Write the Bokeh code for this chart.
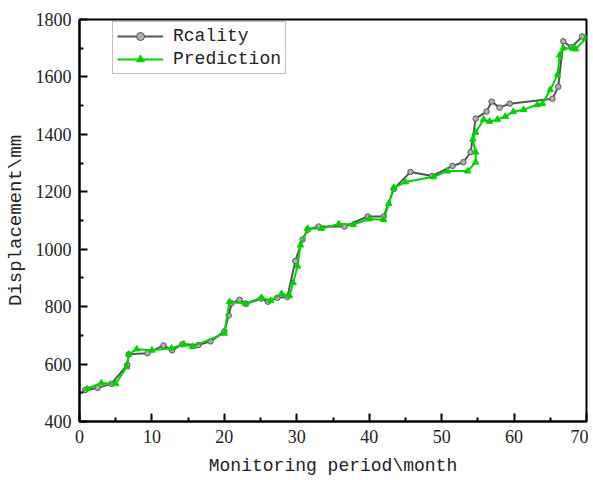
from bokeh.plotting import figure
from bokeh.models import Range1d, Legend, LegendItem, FixedTicker
from bokeh.embed import file_html
from bokeh.resources import INLINE

# Data
real_x = [0.8, 2.5, 4.4, 6.6, 6.8, 9.4, 11.6, 12.8, 14.2, 16.4, 18.1, 20.0, 20.6, 21.0,
          22.1, 23.0, 25.1, 26.0, 27.3, 28.7, 29.8, 30.8, 31.5, 33.0, 36.6, 39.8, 42.0,
          43.4, 45.7, 48.7, 51.5, 53.0, 54.0, 54.7, 56.2, 56.9, 58.0, 59.4, 65.3, 66.1,
          66.8, 67.9, 69.4]
real_y = [510, 517, 531, 597, 634, 638, 665, 648, 669, 666, 679, 714, 769, 812,
          824, 810, 828, 817, 831, 834, 959, 1034, 1068, 1079, 1079, 1114, 1114,
          1210, 1269, 1255, 1290, 1303, 1338, 1455, 1479, 1514, 1493, 1507, 1524, 1566,
          1724, 1703, 1741]

pred_x = [1.1, 3.0, 5.0, 6.5, 6.8, 7.9, 10.0, 12.7, 14.4, 15.6, 20.0, 20.7, 22.9, 25.1,
          26.4, 27.9, 29.0, 29.5, 30.1, 30.5, 31.5, 33.4, 35.8, 37.8, 40.0, 42.0, 42.7,
          43.4, 45.0, 48.9, 50.8, 53.6, 54.7, 54.7, 54.3, 54.7, 55.8, 56.6, 57.7, 58.8,
          59.9, 61.3, 63.2, 63.9, 65.0, 66.0, 66.3, 66.8, 68.1, 68.5, 69.9]
pred_y = [514, 534, 531, 590, 634, 652, 648, 655, 669, 661, 707, 817, 810, 831,
          821, 845, 838, 883, 941, 1014, 1072, 1072, 1088, 1086, 1105, 1103, 1159,
          1214, 1234, 1252, 1272, 1272, 1303, 1338, 1383, 1407, 1452, 1445, 1452, 1462,
          1479, 1486, 1503, 1507, 1555, 1607, 1676, 1700, 1700, 1697, 1734]

x_ticks = [0, 10, 20, 30, 40, 50, 60, 70]
y_ticks = [400, 600, 800, 1000, 1200, 1400, 1600, 1800]

GRAY = "#555555"
GREEN = "#00d400"

p = figure(width=588, height=478, output_backend="svg", toolbar_location=None,
           x_range=Range1d(0, 70), y_range=Range1d(400, 1800),
           min_border_left=79, min_border_right=2, min_border_top=19, min_border_bottom=53)

p.grid.visible = False
p.outline_line_color = "black"
p.outline_line_width = 2
p.background_fill_color = "white"
p.border_fill_color = "white"

for ax in (p.xaxis[0], p.yaxis[0]):
    ax.axis_line_width = 2
    ax.axis_line_color = "black"
    ax.major_tick_in = 8
    ax.major_tick_out = 0
    ax.minor_tick_in = 4
    ax.minor_tick_out = 0
    ax.major_tick_line_width = 2
    ax.minor_tick_line_width = 2
    ax.major_label_text_font = "Liberation Serif"
    ax.major_label_text_font_size = "18px"
    ax.major_label_text_color = "#222222"
    ax.axis_label_text_font = "Liberation Mono"
    ax.axis_label_text_font_style = "normal"
    ax.axis_label_text_color = "#222222"

p.xaxis.axis_label_text_font_size = "18px"
p.yaxis.axis_label_text_font_size = "19px"
p.xaxis.ticker = FixedTicker(ticks=x_ticks, minor_ticks=[5, 15, 25, 35, 45, 55, 65])
p.yaxis.ticker = FixedTicker(ticks=y_ticks, minor_ticks=[500, 700, 900, 1100, 1300, 1500, 1700])
p.xaxis.axis_label = "Monitoring period\\month"
p.yaxis.axis_label = "Displacement\\mm"
p.xaxis.major_label_standoff = 8
p.yaxis.major_label_standoff = 8
p.xaxis.axis_label_standoff = 10
p.yaxis.axis_label_standoff = 6

r1 = p.line(real_x, real_y, line_color=GRAY, line_width=2)
p.scatter(real_x, real_y, marker="circle", size=5.5, fill_color="#b0b0b0",
          line_color=GRAY, line_width=1)
r2 = p.line(pred_x, pred_y, line_color=GREEN, line_width=2)
p.scatter(pred_x, pred_y, marker="triangle", size=6.5, fill_color=GREEN,
          line_color=GREEN)

# small legend markers (one point far outside the visible range, used only for the legend glyphs)
l1m = p.scatter([-1000], [-1000], marker="circle", size=3.5, fill_color="#b0b0b0", line_color=GRAY)
l2m = p.scatter([-1000], [-1000], marker="triangle", size=4, fill_color=GREEN, line_color=GREEN)

legend = Legend(items=[LegendItem(label="Rcality", renderers=[r1, l1m]),
                       LegendItem(label="Prediction", renderers=[r2, l2m])],
                location=(33, 347))
legend.label_text_font = "Liberation Mono"
legend.label_text_font_size = "18px"
legend.label_text_color = "#222222"
legend.glyph_width = 46
legend.glyph_height = 20
legend.label_height = 20
legend.label_standoff = 10
legend.spacing = 3
legend.padding = 4
legend.margin = 0
legend.border_line_color = "#808080"
legend.border_line_width = 1
legend.background_fill_alpha = 1
p.add_layout(legend)

open("out.html", "w").write(file_html(p, INLINE))
